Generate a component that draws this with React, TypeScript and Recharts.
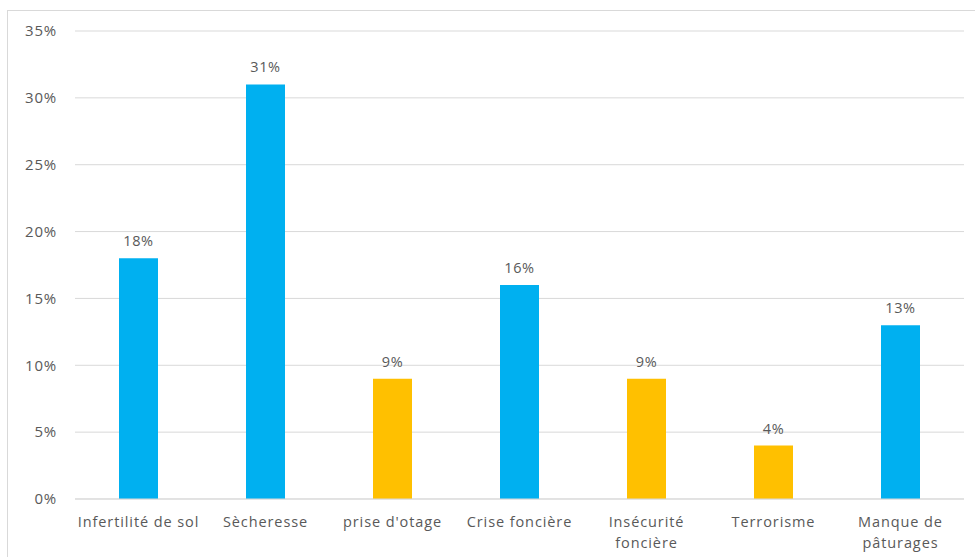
import React from "react";
import { BarChart, Bar, XAxis, YAxis, CartesianGrid, Cell, LabelList } from "recharts";

const categories = [
  "Infertilité de sol",
  "Sècheresse",
  "prise d'otage",
  "Crise foncière",
  "Insécurité\nfoncière",
  "Terrorisme",
  "Manque de\npâturages",
];
const values = [18, 31, 9, 16, 9, 4, 13];
const barColors = ["#00B0F0", "#00B0F0", "#FFC000", "#00B0F0", "#FFC000", "#FFC000", "#00B0F0"];
const yTicks = [0, 5, 10, 15, 20, 25, 30, 35];

const data = categories.map((name, i) => ({ name, value: values[i] }));

const FONT = "'Open Sans', sans-serif";
const GREY = "#595959";

// category labels, broken on "\n"
const CategoryTick = ({ x, y, payload }: any) => {
  const lines = String(payload.value).split("\n");
  return (
    <text
      x={x}
      y={y}
      textAnchor="middle"
      fill={GREY}
      fontSize={14.5}
      fontFamily={FONT}
      letterSpacing={0.9}
    >
      {lines.map((l, i) => (
        <tspan key={i} x={x} dy={i === 0 ? 20 : 21}>
          {l}
        </tspan>
      ))}
    </text>
  );
};

export default function App() {
  return (
    <div
      style={{
        position: "absolute",
        left: 7,
        top: 10,
        width: 980,
        height: 560,
        border: "1px solid #d9d9d9",
        background: "#fff",
      }}
    >
      <BarChart
        width={968}
        height={546}
        data={data}
        margin={{ top: 20, right: 12, bottom: 0, left: 0 }}
      >
        <CartesianGrid vertical={false} stroke="#d9d9d9" />
        <XAxis
          dataKey="name"
          tick={<CategoryTick />}
          tickLine={false}
          axisLine={{ stroke: "#d9d9d9" }}
          interval={0}
          height={58}
        />
        <YAxis
          width={67}
          domain={[0, 35]}
          ticks={yTicks}
          tickFormatter={(v) => `${v}%`}
          tickLine={false}
          axisLine={false}
          tickMargin={12}
          tick={{ fill: GREY, fontSize: 15, fontFamily: FONT, letterSpacing: 0.8 }}
        />
        <Bar dataKey="value" barSize={39} isAnimationActive={false}>
          {data.map((d, i) => (
            <Cell key={d.name} fill={barColors[i]} />
          ))}
          <LabelList
            dataKey="value"
            position="top"
            offset={12}
            formatter={(v: any) => `${v}%`}
            fill={GREY}
            fontSize={14.5}
            fontFamily={FONT}
            letterSpacing={0.6}
          />
        </Bar>
      </BarChart>
    </div>
  );
}
